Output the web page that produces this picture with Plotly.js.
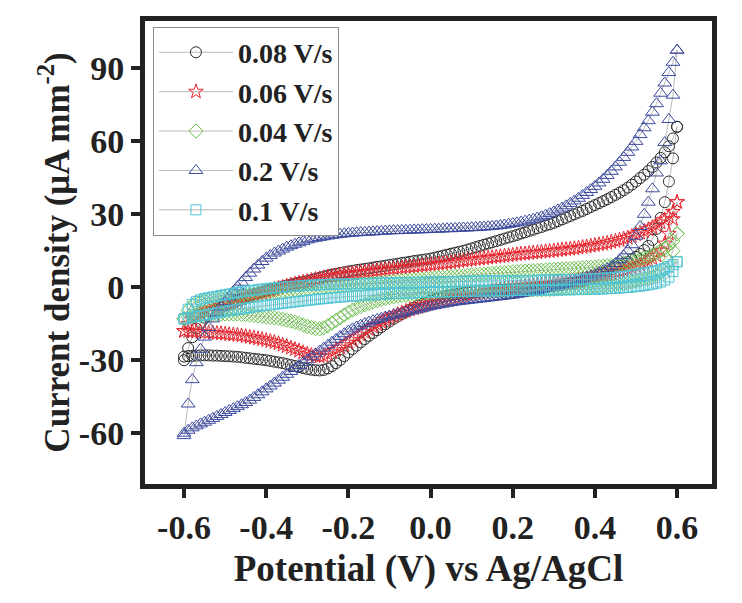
<!DOCTYPE html>
<html>
<head>
<meta charset="utf-8">
<script src="https://cdn.plot.ly/plotly-3.0.1.min.js"></script>
<style>html,body{margin:0;padding:0;background:#fff;}#chart{width:742px;height:603px;}</style>
</head>
<body>
<div id="chart"></div>
<script>
// Potential grid (V vs Ag/AgCl), -0.60 ... 0.60
var potential = [
-0.60,-0.59,-0.58,-0.57,-0.56,-0.55,-0.54,-0.53,-0.52,-0.51,
-0.50,-0.49,-0.48,-0.47,-0.46,-0.45,-0.44,-0.43,-0.42,-0.41,
-0.40,-0.39,-0.38,-0.37,-0.36,-0.35,-0.34,-0.33,-0.32,-0.31,
-0.30,-0.29,-0.28,-0.27,-0.26,-0.25,-0.24,-0.23,-0.22,-0.21,
-0.20,-0.19,-0.18,-0.17,-0.16,-0.15,-0.14,-0.13,-0.12,-0.11,
-0.10,-0.09,-0.08,-0.07,-0.06,-0.05,-0.04,-0.03,-0.02,-0.01,
0.00,0.01,0.02,0.03,0.04,0.05,0.06,0.07,0.08,0.09,
0.10,0.11,0.12,0.13,0.14,0.15,0.16,0.17,0.18,0.19,
0.20,0.21,0.22,0.23,0.24,0.25,0.26,0.27,0.28,0.29,
0.30,0.31,0.32,0.33,0.34,0.35,0.36,0.37,0.38,0.39,
0.40,0.41,0.42,0.43,0.44,0.45,0.46,0.47,0.48,0.49,
0.50,0.51,0.52,0.53,0.54,0.55,0.56,0.57,0.58,0.59,
0.60];

// Series names (legend order)
var seriesNames = ["0.08 V/s", "0.06 V/s", "0.04 V/s", "0.2 V/s", "0.1 V/s"];

// Current density (uA mm^-2): forward (anodic) sweep at each potential
var fwd008 = [
-30,-25,-20.5,-17,-14.5,-12.5,-11.2,-10.0,-9.1,-8.3,
-7.5,-6.8,-6.1,-5.5,-4.8,-4.2,-3.6,-3.0,-2.5,-2.0,
-1.5,-1.0,-0.6,-0.1,0.3,0.7,1.1,1.5,1.9,2.2,
2.6,3.0,3.5,3.9,4.4,4.8,5.2,5.5,5.9,6.2,
6.5,6.8,7.1,7.3,7.6,7.8,8.1,8.4,8.6,8.9,
9.2,9.4,9.7,10.0,10.2,10.5,10.8,11.0,11.3,11.5,
11.8,12.2,12.6,13.0,13.4,13.8,14.2,14.6,15.0,15.5,
16.0,16.5,17.0,17.5,18.0,18.5,19.0,19.5,20.0,20.5,
21.0,21.5,22.1,22.6,23.2,23.7,24.3,24.8,25.4,25.9,
26.5,27.2,27.9,28.6,29.3,30.0,30.7,31.4,32.2,33.0,
33.8,34.6,35.4,36.2,37.1,38.0,38.9,39.9,41.0,42.2,
43.5,44.9,46.3,47.8,49.5,51.3,53.2,55.5,58.0,61.2,
66];
// reverse (cathodic) sweep, listed at the same potentials
var rev008 = [
-28.5,-28.3,-28.2,-28.1,-28.0,-28.0,-28.0,-28.1,-28.1,-28.2,
-28.3,-28.4,-28.5,-28.6,-28.8,-29.0,-29.2,-29.4,-29.6,-29.8,
-30.0,-30.3,-30.6,-30.9,-31.2,-31.6,-32.0,-32.4,-32.8,-33.2,
-33.6,-33.9,-34.1,-34.2,-34.0,-33.4,-32.4,-31.2,-29.9,-28.3,
-26.8,-25.4,-24.0,-22.6,-21.3,-20.0,-18.8,-17.6,-16.4,-15.2,
-14.1,-13.0,-12.0,-11.0,-10.1,-9.2,-8.4,-7.6,-6.9,-6.2,
-5.5,-4.9,-4.4,-3.9,-3.5,-3.2,-2.9,-2.6,-2.4,-2.2,
-2.0,-1.8,-1.7,-1.5,-1.4,-1.3,-1.2,-1.1,-1.0,-0.9,
-0.8,-0.7,-0.6,-0.5,-0.4,-0.2,0.0,0.1,0.3,0.4,
0.6,0.8,1.0,1.3,1.6,1.9,2.2,2.6,3.0,3.5,
4.5,5.1,5.8,6.5,7.3,8.1,8.9,9.7,10.5,11.5,
12.5,13.7,15.3,17.0,19.5,24.0,28.5,35.0,43.5,53.0,
66];

var fwd006 = [
-18.0,-15.0,-13.0,-11.6,-10.8,-10.1,-9.5,-8.9,-8.3,-7.6,
-7.0,-6.4,-5.8,-5.3,-4.7,-4.2,-3.7,-3.2,-2.7,-2.3,
-1.8,-1.3,-0.8,-0.3,0.1,0.6,1.0,1.4,1.8,2.1,
2.5,2.9,3.3,3.6,4.0,4.3,4.6,4.8,5.1,5.3,
5.5,5.7,5.9,6.1,6.3,6.5,6.7,6.9,7.1,7.3,
7.5,7.7,7.8,8.0,8.2,8.4,8.5,8.7,8.9,9.0,
9.2,9.4,9.6,9.8,10.0,10.2,10.4,10.7,10.9,11.1,
11.3,11.5,11.7,11.9,12.1,12.3,12.5,12.7,12.9,13.1,
13.3,13.5,13.7,13.8,14.0,14.2,14.3,14.5,14.7,14.8,
15.0,15.2,15.4,15.6,15.8,16.0,16.2,16.5,16.7,17.0,
17.3,17.6,17.9,18.2,18.6,19.0,19.4,19.9,20.4,21.0,
21.7,22.4,23.1,23.8,24.6,25.5,26.6,27.8,29.2,31.0,
35];
var rev006 = [
-18.0,-18.1,-18.2,-18.3,-18.4,-18.5,-18.6,-18.8,-18.9,-19.0,
-19.2,-19.4,-19.5,-19.7,-19.9,-20.2,-20.5,-20.8,-21.1,-21.4,
-21.8,-22.2,-22.6,-23.1,-23.7,-24.3,-24.9,-25.5,-26.1,-26.8,
-27.4,-27.9,-28.3,-28.5,-28.3,-27.6,-26.7,-25.8,-24.8,-23.8,
-22.8,-21.7,-20.6,-19.5,-18.4,-17.3,-16.3,-15.3,-14.3,-13.4,
-12.6,-11.8,-11.1,-10.4,-9.8,-9.2,-8.7,-8.2,-7.7,-7.2,
-6.8,-6.3,-5.9,-5.5,-5.1,-4.7,-4.3,-3.9,-3.5,-3.2,
-2.9,-2.6,-2.3,-2.0,-1.8,-1.5,-1.3,-1.0,-0.8,-0.6,
-0.4,-0.2,0.0,0.2,0.4,0.6,0.8,1.0,1.2,1.4,
1.6,1.8,2.0,2.2,2.5,2.7,3.0,3.3,3.6,4.0,
4.3,4.7,5.0,5.4,5.8,6.2,6.6,7.0,7.5,8.1,
8.7,9.3,10.0,10.8,11.8,13.0,15.0,18.0,22.0,28.0,
35];

var fwd004 = [
-13.0,-9.5,-7.5,-6.3,-5.9,-5.6,-5.4,-5.2,-5.0,-4.7,
-4.5,-4.3,-4.0,-3.8,-3.5,-3.3,-3.1,-2.8,-2.6,-2.4,
-2.2,-2.0,-1.8,-1.6,-1.5,-1.3,-1.1,-1.0,-0.8,-0.7,
-0.5,-0.4,-0.2,-0.1,0.0,0.2,0.3,0.4,0.5,0.7,
0.8,0.9,1.1,1.2,1.4,1.5,1.6,1.8,1.9,2.1,
2.2,2.4,2.5,2.6,2.8,2.9,3.1,3.2,3.3,3.5,
3.6,3.8,3.9,4.0,4.2,4.3,4.4,4.6,4.7,4.9,
5.0,5.1,5.3,5.4,5.5,5.7,5.8,5.9,6.0,6.2,
6.3,6.4,6.5,6.6,6.7,6.8,6.9,7.0,7.1,7.2,
7.3,7.4,7.5,7.6,7.7,7.8,7.9,8.0,8.1,8.2,
8.3,8.5,8.6,8.8,9.0,9.2,9.5,9.8,10.2,10.6,
11.0,11.5,12.0,12.5,13.2,14.0,15.0,16.0,17.3,19.0,
22];
var rev004 = [
-13.0,-12.3,-11.9,-11.6,-11.5,-11.4,-11.3,-11.2,-11.1,-11.0,
-11.0,-11.0,-11.0,-11.0,-11.1,-11.2,-11.4,-11.6,-11.8,-12.0,
-12.2,-12.4,-12.6,-12.8,-13.1,-13.5,-13.9,-14.4,-14.9,-15.5,
-16.1,-16.6,-17.0,-17.1,-16.7,-15.8,-14.7,-13.6,-12.5,-11.4,
-10.3,-9.4,-8.6,-7.9,-7.2,-6.6,-6.0,-5.5,-5.0,-4.6,
-4.2,-3.9,-3.6,-3.4,-3.2,-3.0,-2.8,-2.7,-2.6,-2.4,
-2.3,-2.2,-2.1,-2.0,-2.0,-1.9,-1.9,-1.8,-1.8,-1.7,
-1.7,-1.7,-1.6,-1.6,-1.6,-1.5,-1.5,-1.5,-1.4,-1.4,
-1.3,-1.3,-1.2,-1.2,-1.1,-1.1,-1.0,-1.0,-0.9,-0.9,
-0.8,-0.7,-0.6,-0.5,-0.4,-0.3,-0.2,-0.1,0.0,0.1,
0.2,0.3,0.5,0.6,0.8,1.0,1.2,1.5,1.8,2.2,
2.6,3.0,3.4,3.8,4.3,5.0,6.0,7.8,10.5,15.0,
22];

var fwd02 = [
-61,-48,-38,-31,-25.5,-20.5,-16.5,-13,-10.5,-8.2,
-6,-3.9,-1.8,0.2,2.1,4,5.8,7.5,9.1,10.6,
12,13.1,14.1,14.9,15.7,16.5,17.1,17.7,18.3,18.9,
19.5,19.9,20.2,20.5,20.8,21.1,21.4,21.6,21.8,22.0,
22.2,22.3,22.4,22.5,22.6,22.7,22.8,22.9,23.0,23.1,
23.2,23.3,23.3,23.4,23.4,23.5,23.6,23.6,23.7,23.7,
23.8,23.9,23.9,24.0,24.1,24.1,24.2,24.3,24.4,24.4,
24.5,24.6,24.7,24.8,24.9,25.1,25.2,25.4,25.6,25.9,
26.2,26.5,26.8,27.2,27.6,28.0,28.5,29.0,29.6,30.3,
31.0,31.8,32.6,33.5,34.5,35.5,36.6,37.8,39.0,40.2,
41.5,42.9,44.4,46.0,47.7,49.5,51.4,53.4,55.5,57.7,
60.0,62.8,65.6,68.5,72.0,75.5,79.8,84.0,88.3,92.5,
97.5];
var rev02 = [
-60,-58.8,-57.8,-57.0,-56.2,-55.5,-54.7,-53.9,-53.1,-52.3,
-51.5,-50.7,-49.9,-49.1,-48.3,-47.4,-46.4,-45.3,-44.2,-43.0,
-41.8,-40.6,-39.4,-38.2,-37.0,-35.8,-34.6,-33.4,-32.2,-31.0,
-29.8,-28.6,-27.4,-26.2,-25.0,-23.8,-22.6,-21.4,-20.2,-19.1,
-18.0,-17.1,-16.3,-15.6,-14.9,-14.3,-13.7,-13.2,-12.7,-12.2,
-11.8,-11.4,-11.0,-10.6,-10.2,-9.8,-9.4,-9.0,-8.6,-8.2,
-7.8,-7.5,-7.2,-6.9,-6.6,-6.3,-6.0,-5.8,-5.6,-5.4,
-5.2,-5.0,-4.8,-4.6,-4.4,-4.2,-4.0,-3.8,-3.6,-3.4,
-3.2,-2.9,-2.6,-2.3,-2.0,-1.7,-1.3,-0.9,-0.5,-0.1,
0.3,0.7,1.1,1.5,2.0,2.5,3.0,3.6,4.2,4.8,
5.3,6.0,6.8,7.6,8.6,9.8,11.3,13.0,15.0,17.5,
21.0,25.0,30.0,35.0,40.5,47.0,52.0,59.5,69.0,79.0,
97.5];

var fwd01 = [
-13.0,-9.0,-7.0,-5.8,-5.2,-4.7,-4.3,-4.0,-3.7,-3.4,
-3.1,-2.8,-2.5,-2.2,-1.9,-1.6,-1.4,-1.2,-1.0,-0.8,
-0.6,-0.4,-0.3,-0.1,0.0,0.2,0.3,0.4,0.5,0.7,
0.8,0.9,0.9,1.0,1.1,1.1,1.2,1.3,1.3,1.4,
1.4,1.5,1.5,1.5,1.6,1.6,1.6,1.7,1.7,1.7,
1.8,1.8,1.8,1.9,1.9,2.0,2.0,2.0,2.1,2.1,
2.2,2.2,2.2,2.3,2.3,2.3,2.4,2.4,2.4,2.5,
2.5,2.5,2.5,2.6,2.6,2.6,2.6,2.6,2.7,2.7,
2.7,2.7,2.8,2.8,2.8,2.8,2.9,2.9,2.9,3.0,
3.0,3.0,3.1,3.1,3.2,3.2,3.3,3.3,3.4,3.4,
3.5,3.6,3.7,3.8,3.9,4.1,4.3,4.5,4.7,5.0,
5.3,5.6,5.9,6.2,6.5,6.8,7.2,7.8,8.5,9.3,
10.5];
var rev01 = [
-13.0,-12.6,-12.3,-12.0,-11.7,-11.4,-11.1,-10.8,-10.5,-10.2,
-9.9,-9.6,-9.4,-9.1,-8.8,-8.6,-8.3,-8.1,-7.8,-7.6,
-7.4,-7.2,-7.0,-6.8,-6.6,-6.4,-6.2,-6.0,-5.8,-5.6,
-5.4,-5.2,-5.0,-4.8,-4.7,-4.5,-4.3,-4.2,-4.0,-3.9,
-3.7,-3.6,-3.5,-3.4,-3.3,-3.2,-3.1,-3.0,-2.9,-2.8,
-2.7,-2.6,-2.6,-2.5,-2.4,-2.4,-2.3,-2.2,-2.2,-2.1,
-2.0,-2.0,-1.9,-1.9,-1.8,-1.8,-1.8,-1.7,-1.7,-1.7,
-1.6,-1.6,-1.6,-1.5,-1.5,-1.5,-1.5,-1.4,-1.4,-1.4,
-1.3,-1.3,-1.3,-1.3,-1.2,-1.2,-1.2,-1.2,-1.1,-1.1,
-1.1,-1.1,-1.0,-1.0,-1.0,-1.0,-0.9,-0.9,-0.9,-0.8,
-0.8,-0.7,-0.7,-0.6,-0.5,-0.4,-0.3,-0.2,-0.1,0.1,
0.3,0.5,0.7,1.0,1.3,1.7,2.2,3.0,4.2,6.5,
10.5];

// Axis ticks
var xTickVals = [-0.6, -0.4, -0.2, 0.0, 0.2, 0.4, 0.6];
var xTickText = ["-0.6", "-0.4", "-0.2", "0.0", "0.2", "0.4", "0.6"];
var yTickVals = [-60, -30, 0, 30, 60, 90];
var yTickText = ["-60", "-30", "0", "30", "60", "90"];

var forwardSets = [fwd008, fwd006, fwd004, fwd02, fwd01];
var reverseSets = [rev008, rev006, rev004, rev02, rev01];
var symbols = ["circle-open", "star-open", "diamond-open", "triangle-up-open", "square-open"];
var colors = ["#2a2a2a", "#e8262f", "#6cbf4e", "#3b4a9e", "#4fc4d4"];
var sizes = [11, 11, 11, 12, 10];

var cycleX = potential.concat(potential.slice().reverse());
var traces = [];
for (var i = 0; i < seriesNames.length; i++) {
  traces.push({
    type: "scatter",
    mode: "lines+markers",
    name: seriesNames[i],
    x: cycleX,
    y: forwardSets[i].concat(reverseSets[i].slice().reverse()),
    line: {color: "#a8a8a8", width: 0.8},
    marker: {symbol: symbols[i], size: sizes[i], color: colors[i], line: {color: colors[i], width: 1}}
  });
}

var fontFam = "Liberation Serif, Times New Roman, serif";
var layout = {
  width: 742, height: 603,
  margin: {l: 145, r: 30, t: 21, b: 119},
  paper_bgcolor: "#ffffff",
  plot_bgcolor: "#ffffff",
  showlegend: true,
  font: {family: fontFam, color: "#222", weight: "bold"},
  xaxis: {
    range: [-0.695, 0.685],
    tickvals: xTickVals, ticktext: xTickText,
    showgrid: false, zeroline: false,
    showline: true, mirror: true, linewidth: 5, linecolor: "#222",
    ticks: "outside", ticklen: 9, tickwidth: 4, tickcolor: "#222",
    tickfont: {family: fontFam, size: 34, color: "#222", weight: "bold"},
    title: {text: "Potential (V) vs Ag/AgCl", font: {family: fontFam, size: 37, color: "#222", weight: "bold"}, standoff: 12}
  },
  yaxis: {
    range: [-80.9, 109.5],
    tickvals: yTickVals, ticktext: yTickText,
    showgrid: false, zeroline: false,
    showline: true, mirror: true, linewidth: 5, linecolor: "#222",
    ticks: "outside", ticklen: 9, tickwidth: 4, tickcolor: "#222",
    tickfont: {family: fontFam, size: 34, color: "#222", weight: "bold"},
    title: {text: "Current density (μA mm<sup>-2</sup>)", font: {family: fontFam, size: 35, color: "#222", weight: "bold"}, standoff: 0}
  },
  legend: {
    x: 0.014, y: 0.988, xanchor: "left", yanchor: "top",
    bgcolor: "#ffffff", bordercolor: "#8a8a8a", borderwidth: 1,
    font: {family: fontFam, size: 28, color: "#222", weight: "bold"},
    itemwidth: 74, tracegroupgap: 0
  },
  hovermode: false
};

Plotly.newPlot("chart", traces, layout, {displayModeBar: false, staticPlot: true});
</script>
</body>
</html>
